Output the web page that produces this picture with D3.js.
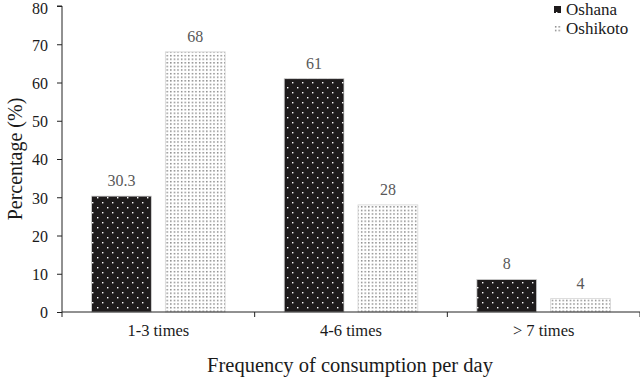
<!DOCTYPE html>
<html><head><meta charset="utf-8">
<script src="https://cdn.jsdelivr.net/npm/d3@7"></script>
<style>body{margin:0;background:#fff}svg{display:block}text{font-family:"Liberation Serif","Times New Roman",serif}</style>
</head><body><svg id="c" width="640" height="380"></svg>
<script>
const categories = ["1-3 times", "4-6 times", "> 7 times"];
const seriesNames = ["Oshana", "Oshikoto"];
const oshana = [30.3, 61, 8.5];
const oshikoto = [68, 28, 3.5];
const oshanaLabels = ["30.3", "61", "8"];
const oshikotoLabels = ["68", "28", "4"];
const yTicks = [0, 10, 20, 30, 40, 50, 60, 70, 80];

(function(){
const svg = d3.select("#c");
const defs = svg.append("defs");
const p1 = defs.append("pattern").attr("id","pOshana").attr("patternUnits","userSpaceOnUse").attr("width",10).attr("height",10);
p1.append("rect").attr("width",10).attr("height",10).attr("fill","#1e1b1c");
p1.append("rect").attr("x",2).attr("y",2).attr("width",1.4).attr("height",1.4).attr("fill","#fff");
p1.append("rect").attr("x",7).attr("y",7).attr("width",1.4).attr("height",1.4).attr("fill","#fff");
const p2 = defs.append("pattern").attr("id","pOshikoto").attr("patternUnits","userSpaceOnUse").attr("width",3.6).attr("height",3.6);
p2.append("rect").attr("width",3.6).attr("height",3.6).attr("fill","#fff");
p2.append("rect").attr("x",1).attr("y",1).attr("width",1.3).attr("height",1.3).attr("fill","#666");

const mLeft = 62, mRight = 640, mTop = 6, mBottom = 312;
const x = d3.scaleBand().domain(categories).range([mLeft, mRight]);
const x1 = d3.scaleBand().domain(seriesNames).range([0, x.bandwidth()]).paddingInner(0.19).paddingOuter(0.4);
const y = d3.scaleLinear().domain([0, 80]).range([mBottom, mTop]);

// y axis
const ya = svg.append("g").attr("transform",`translate(${mLeft},0)`)
  .call(d3.axisLeft(y).tickValues(yTicks).tickSize(5).tickFormat(d3.format("d")));
ya.selectAll("text").attr("font-size",16).attr("fill","#1a1a1a").attr("x",-14).attr("dy","0.36em")
  .filter(d => d === 80).attr("dy","0.45em");
ya.selectAll("line").attr("stroke","#222");
ya.select(".domain").attr("stroke","#222").attr("d",`M-5,${mTop}H0V${mBottom}`);

// bars
const data = [oshana, oshikoto];
const fills = ["url(#pOshana)", "url(#pOshikoto)"];
const labels = [oshanaLabels, oshikotoLabels];
seriesNames.forEach((s, si) => {
  const g = svg.append("g");
  g.selectAll("rect").data(categories).join("rect")
    .attr("x", c => x(c) + x1(s))
    .attr("y", (c,i) => y(data[si][i]))
    .attr("width", x1.bandwidth())
    .attr("height", (c,i) => y(0) - y(data[si][i]))
    .attr("fill", fills[si])
    .attr("stroke", "#d4d4d4").attr("stroke-width", 0.8);
  g.selectAll("text").data(categories).join("text")
    .attr("x", c => x(c) + x1(s) + x1.bandwidth()/2)
    .attr("y", (c,i) => y(data[si][i]) - 10)
    .attr("text-anchor","middle").attr("font-size",16).attr("fill","#595959")
    .text((c,i) => labels[si][i]);
});

// x axis
const xa = svg.append("g").attr("transform",`translate(0,${mBottom})`)
  .call(d3.axisBottom(x).tickSize(0));
xa.select(".domain").attr("stroke","#222").attr("d",`M${mLeft},0H${mRight}`);
xa.selectAll("text").attr("font-size",16.5).attr("fill","#1a1a1a").attr("dy","0").attr("y",24);
const bounds = [mLeft].concat(categories.map(c => x(c) + x.bandwidth()));
xa.selectAll(".sep").data(bounds).join("line").attr("class","sep")
  .attr("x1", d => d).attr("x2", d => d).attr("y1", 0).attr("y2", 5).attr("stroke","#222");

// axis titles
svg.append("text").attr("transform",`translate(22,${(mTop+mBottom)/2}) rotate(-90)`)
  .attr("text-anchor","middle").attr("font-size",20).attr("fill","#1a1a1a").text("Percentage (%)");
svg.append("text").attr("x", 350).attr("y", 372)
  .attr("text-anchor","middle").attr("font-size",20.5).attr("fill","#1a1a1a").text("Frequency of consumption per day");

// legend
const lg = svg.append("g").attr("transform","translate(554,0)");
seriesNames.forEach((s, i) => {
  lg.append("rect").attr("x",0).attr("y",6 + i*19).attr("width",7).attr("height",7).attr("fill",fills[i]);
  lg.append("text").attr("x",12).attr("y",15 + i*19).attr("font-size",17).attr("fill","#1a1a1a").text(s);
});
})();
</script></body></html>
